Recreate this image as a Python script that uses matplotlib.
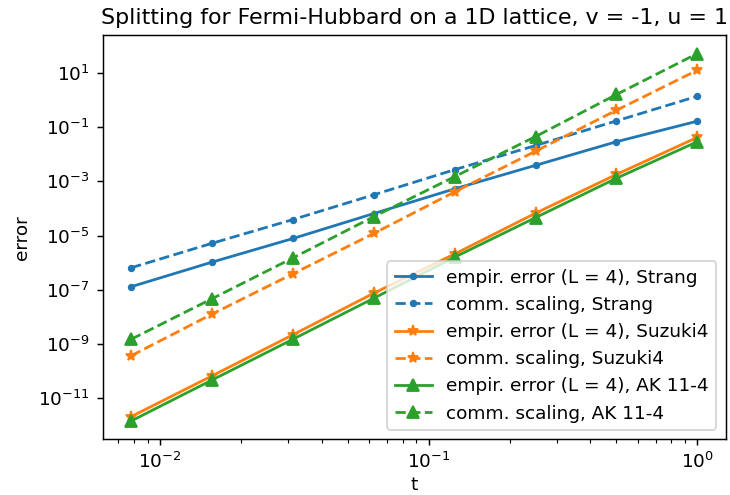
import matplotlib
matplotlib.use("Agg")
import matplotlib.pyplot as plt
import numpy as np

# time steps t = 2^-7 ... 2^0
t = [1/128, 1/64, 1/32, 1/16, 1/8, 1/4, 1/2, 1]

strang_err = [1.3e-7, 1.05e-6, 7.8e-6, 6.5e-5, 5.3e-4, 3.9e-3, 2.9e-2, 1.66e-1]
strang_comm = [6.5e-7, 5.2e-6, 3.9e-5, 3.2e-4, 2.7e-3, 2.1e-2, 1.7e-1, 1.38]
suzuki_err = [2.1e-12, 6.7e-11, 2.2e-9, 7.5e-8, 2.1e-6, 6.7e-5, 1.8e-3, 4.2e-2]
suzuki_comm = [3.7e-10, 1.27e-8, 3.9e-7, 1.2e-5, 4.1e-4, 1.3e-2, 4.2e-1, 12.6]
ak_err = [1.45e-12, 4.7e-11, 1.5e-9, 4.9e-8, 1.6e-6, 4.6e-5, 1.3e-3, 2.9e-2]
ak_comm = [1.5e-9, 4.7e-8, 1.5e-6, 5.0e-5, 1.5e-3, 4.5e-2, 1.6, 52.0]

DPI = 133
fig = plt.figure(figsize=(730 / DPI, 495 / DPI), dpi=DPI)
ax = fig.add_subplot(111)
fig.subplots_adjust(left=0.141, right=0.994, top=0.929, bottom=0.1125)

ax.loglog(t, strang_err, '.-', color='C0', label='empir. error (L = 4), Strang')
ax.loglog(t, strang_comm, '.--', color='C0', label='comm. scaling, Strang')
ax.loglog(t, suzuki_err, '*-', color='C1', label='empir. error (L = 4), Suzuki4')
ax.loglog(t, suzuki_comm, '*--', color='C1', label='comm. scaling, Suzuki4')
ax.loglog(t, ak_err, '^-', color='C2', label='empir. error (L = 4), AK 11-4')
ax.loglog(t, ak_comm, '^--', color='C2', label='comm. scaling, AK 11-4')

ax.set_xlabel("t", labelpad=2)
ax.set_ylabel("error")
ax.set_title("Splitting for Fermi-Hubbard on a 1D lattice, v = -1, u = 1")
ax.legend(loc='lower right')

fig.savefig("out.png", dpi=DPI)
